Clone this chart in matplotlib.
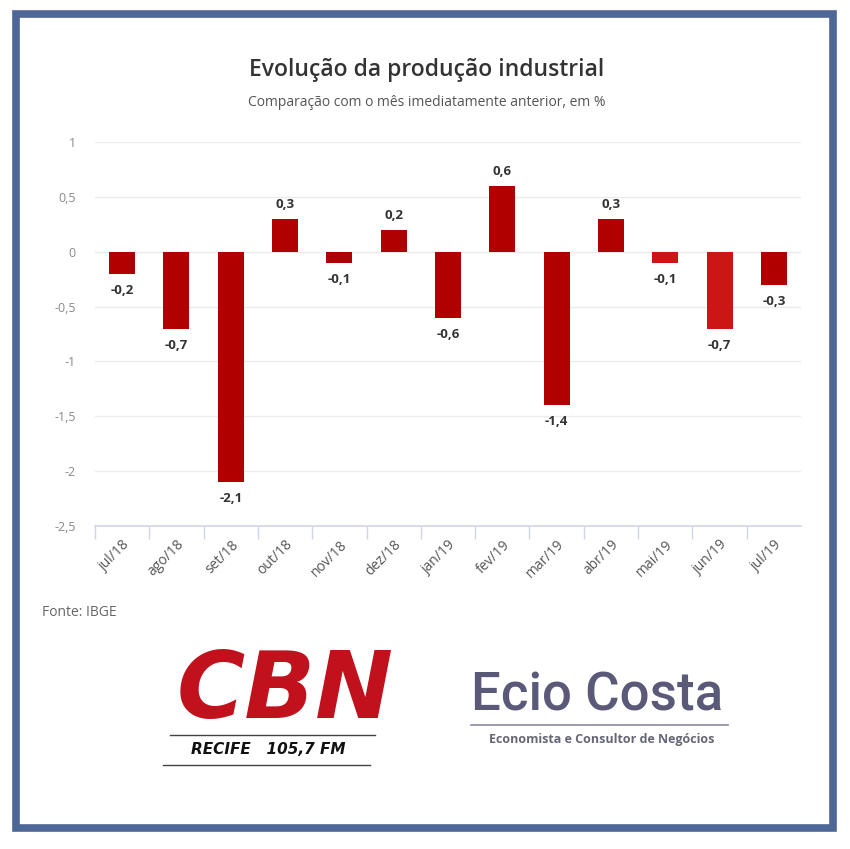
import matplotlib.pyplot as plt
from matplotlib.patches import Rectangle
from matplotlib.lines import Line2D

plt.rcParams['font.family'] = ['Open Sans', 'DejaVu Sans']

# data
meses = ['jul/18', 'ago/18', 'set/18', 'out/18', 'nov/18', 'dez/18', 'jan/19',
         'fev/19', 'mar/19', 'abr/19', 'mai/19', 'jun/19', 'jul/19']
variacao = [-0.2, -0.7, -2.1, 0.3, -0.1, 0.2, -0.6, 0.6, -1.4, 0.3, -0.1, -0.7, -0.3]
cores = ['#b00000'] * 10 + ['#cc1616', '#cc1616', '#b00000']
y_ticks = [1, 0.5, 0, -0.5, -1, -1.5, -2, -2.5]
y_labels = ['1', '0,5', '0', '-0,5', '-1', '-1,5', '-2', '-2,5']

W, H = 850, 849
fig = plt.figure(figsize=(W / 100, H / 100), dpi=100)
fig.patch.set_facecolor('white')

# frame around everything
fig.patches.append(Rectangle((15.5 / W, 1 - 828 / H), 817 / W, 814 / H,
                             transform=fig.transFigure, fill=False,
                             edgecolor='#4f6796', linewidth=5.5))

ax = fig.add_axes([95 / W, 1 - 526 / H, 706 / W, 384 / H])
x = list(range(len(meses)))
ax.bar(x, variacao, width=0.48, color=cores, zorder=3)
ax.set_xlim(-0.5, 12.5)
ax.set_ylim(-2.5, 1)

for s in ['top', 'right', 'left']:
    ax.spines[s].set_visible(False)
ax.spines['bottom'].set_color('#ccd6eb')
ax.spines['bottom'].set_linewidth(1.2)

ax.set_yticks(y_ticks)
ax.set_yticklabels(y_labels, color='#8a8a8a', fontsize=9)
ax.tick_params(axis='y', length=0, pad=14)
ax.grid(axis='y', color='#ebebeb', linewidth=1, zorder=0)

ax.set_xticks(x)
ax.set_xticklabels(meses, rotation=45, ha='right', rotation_mode='anchor',
                   fontsize=10, color='#555555')
ax.tick_params(axis='x', length=0, pad=8)
ax.set_xticks([i - 0.5 for i in range(len(meses))], minor=True)
ax.tick_params(axis='x', which='minor', length=9, color='#ccd6eb', width=1)

for xi, v in zip(x, variacao):
    txt = ('%.1f' % v).replace('.', ',')
    off = 10 if v > 0 else -12
    ax.annotate(txt, (xi, v), xytext=(0, off), textcoords='offset points',
                ha='center', va='center', fontsize=9.5, fontweight='bold',
                color='#333333')

fig.text(427 / W, 1 - 70 / H, 'Evolução da produção industrial', ha='center',
         va='center', fontsize=16.5, fontweight='semibold', color='#333333')
fig.text(427 / W, 1 - 103 / H, 'Comparação com o mês imediatamente anterior, em %',
         ha='center', va='center', fontsize=10, color='#555555')
fig.text(42 / W, 1 - 613 / H, 'Fonte: IBGE', ha='left', va='center',
         fontsize=10, color='#666666')

# logos
fig.text(285 / W, 1 - 692 / H, 'CBN', ha='center', va='center', fontsize=67,
         fontweight='heavy', style='italic', color='#c0111c',
         family=['DejaVu Sans'])
fig.lines.append(Line2D([170 / W, 375 / W], [1 - 735 / H, 1 - 735 / H],
                        transform=fig.transFigure, color='#444444', lw=1))
fig.lines.append(Line2D([163 / W, 370 / W], [1 - 765 / H, 1 - 765 / H],
                        transform=fig.transFigure, color='#444444', lw=1))
fig.text(268 / W, 1 - 750 / H, 'RECIFE   105,7 FM', ha='center', va='center',
         fontsize=11, fontweight='bold', style='italic', color='#111111',
         family=['DejaVu Sans'])

fig.text(597 / W, 1 - 696 / H, 'Ecio Costa', ha='center', va='center',
         fontsize=38, fontweight='medium', color='#5a5a78',
         family=['Roboto', 'DejaVu Sans'])
fig.lines.append(Line2D([471 / W, 728 / W], [1 - 725 / H, 1 - 725 / H],
                        transform=fig.transFigure, color='#8a8aa0', lw=1.2))
fig.text(602 / W, 1 - 740 / H, 'Economista e Consultor de Negócios', ha='center',
         va='center', fontsize=9, fontweight='bold', color='#666677')

fig.savefig('out.png', dpi=100, facecolor='white')
